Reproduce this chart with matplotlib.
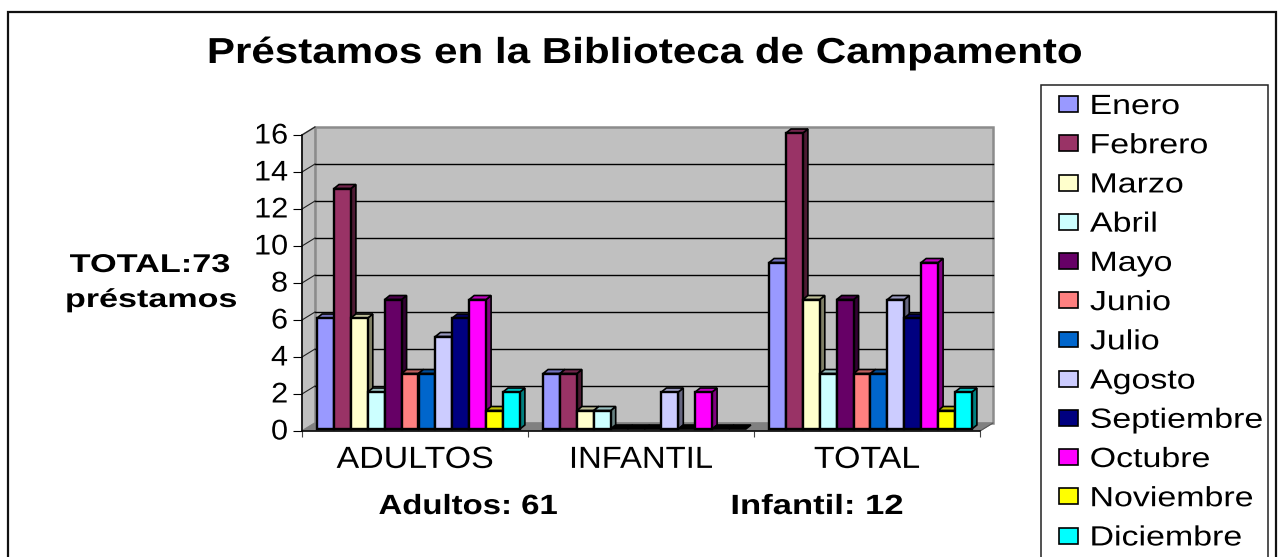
import matplotlib
matplotlib.use("Agg")
import matplotlib.pyplot as plt
from matplotlib.patches import Patch, Polygon, Rectangle
from matplotlib.patheffects import AbstractPathEffect
from matplotlib.transforms import Affine2D
import numpy as np

# ---- data
groups = ["ADULTOS", "INFANTIL", "TOTAL"]
months = ["Enero", "Febrero", "Marzo", "Abril", "Mayo", "Junio", "Julio",
          "Agosto", "Septiembre", "Octubre", "Noviembre", "Diciembre"]
adultos = [6, 13, 6, 2, 7, 3, 3, 5, 6, 7, 1, 2]
infantil = [3, 3, 1, 1, 0, 0, 0, 2, 0, 2, 0, 0]
total = [9, 16, 7, 3, 7, 3, 3, 7, 6, 9, 1, 2]
colors = ["#9999FF", "#993366", "#FFFFCC", "#CCFFFF", "#660066", "#FF8080",
          "#0066CC", "#CCCCFF", "#000080", "#FF00FF", "#FFFF00", "#00FFFF"]
yticks = [0, 2, 4, 6, 8, 10, 12, 14, 16]

W, H = 1285, 557
plt.rcParams["font.family"] = ["Liberation Sans", "DejaVu Sans"]
fig = plt.figure(figsize=(W / 100, H / 100), dpi=100, facecolor="white")


class HStretch(AbstractPathEffect):
    """Widen glyph outlines horizontally about an anchor (the source is a stretched image)."""
    def __init__(self, sx, anchor=0.5, dy=0):
        super().__init__()
        self.sx, self.anchor, self.dy = sx, anchor, dy

    def draw_path(self, renderer, gc, tpath, affine, rgbFace=None):
        e = tpath.get_extents()
        cx = e.x0 + self.anchor * (e.x1 - e.x0)
        t = (Affine2D().translate(-cx, 0).scale(self.sx, 1).translate(cx, 0)
             + affine + Affine2D().translate(0, self.dy))
        renderer.draw_path(gc, tpath, t, rgbFace)


def fit(artists, ref, target, anchor=0.5, dy=0):
    r = fig.canvas.get_renderer()
    sx = target / ref.get_window_extent(r).width
    for a in artists:
        a.set_path_effects([HStretch(sx, anchor, dy)])


def ftext(s, cx, base, size, target, weight="bold"):
    t = fig.text(cx / W, 1 - base / H, s, fontsize=size, fontweight=weight,
                 ha="center", va="baseline", color="black")
    fit([t], t, target)
    return t


# outer frame (bottom edge lies outside the picture) and legend box
fig.add_artist(Rectangle((8 / W, -0.02), 1268 / W, 1.02 - 12 / H, transform=fig.transFigure,
                         fill=False, ec="#111111", lw=1.6))
fig.add_artist(Rectangle((1041 / W, -0.02), 227 / W, 1.02 - 85 / H, transform=fig.transFigure,
                         fill=False, ec="#222222", lw=1.1))

ax = fig.add_axes([302 / W, (H - 431) / H, 678 / W, 296 / H])
ax.patch.set_visible(False)
ax.set_xlim(0, 3)
ax.set_ylim(0, 16)
pxx, pxy = 3 / 678, 16 / 296
DX, DY = 13 * pxx, 8 * pxy

# chart walls, floor, gridlines
ax.add_patch(Polygon([(DX, DY), (3 + DX, DY), (3 + DX, 16 + DY), (DX, 16 + DY)], closed=True,
                     fc="#C0C0C0", ec="#8C8C8C", lw=1.8, clip_on=False, zorder=0.5))
ax.add_patch(Polygon([(0, 0), (DX, DY), (DX, 16 + DY), (0, 16)], closed=True,
                     fc="#C0C0C0", ec="#8C8C8C", lw=1.2, clip_on=False, zorder=0.6))
ax.add_patch(Polygon([(0, 0), (3, 0), (3 + DX, DY), (DX, DY)], closed=True,
                     fc="#808080", ec="#808080", lw=0.8, clip_on=False, zorder=0.7))
for v in yticks:
    if v > 0:
        if v < 16:
            ax.plot([DX, 3 + DX], [v + DY, v + DY], color="black", lw=1.0, clip_on=False, zorder=0.8)
        ax.plot([0, DX], [v, v + DY], color="#222222", lw=0.8, clip_on=False, zorder=0.8)
ax.plot([3, 3 + DX], [0, DY], color="#555555", lw=0.7, clip_on=False, zorder=0.8)


def shade(c, f):
    return tuple(np.array(matplotlib.colors.to_rgb(c)) * f)


# 3-D bars
shift = ax.transData + Affine2D().translate(3.5, 2)
w = 16.9 * pxx
dx, dy = 5 * pxx, 4 * pxy
z = 3.0
for g, series in enumerate([adultos, infantil, total]):
    for m, val in enumerate(series):
        x0 = g + 0.5 + (m - 6) * w
        x1 = x0 + w
        if val > 0:
            ax.add_patch(Polygon([(x1, 0), (x1 + dx, dy), (x1 + dx, val + dy), (x1, val)], closed=True,
                                 fc=shade(colors[m], 0.5), ec="black", lw=1.2,
                                 transform=shift, clip_on=False, zorder=z))
        ax.add_patch(Polygon([(x0, val), (x1, val), (x1 + dx, val + dy), (x0 + dx, val + dy)], closed=True,
                             fc=shade(colors[m], 0.75) if val > 0 else "black", ec="black", lw=1.2,
                             transform=shift, clip_on=False, zorder=z + 0.1))
        if val > 0:
            ax.bar(x0, val, width=w, align="edge", color=colors[m], edgecolor="black", linewidth=1.7,
                   transform=shift, clip_on=False, zorder=z + 0.2)
        z += 0.3

ax.set_xlim(0, 3)
ax.set_ylim(0, 16)
for s in ["top", "right"]:
    ax.spines[s].set_visible(False)
for s in ["left", "bottom"]:
    ax.spines[s].set_linewidth(1.1)

ax.set_yticks(yticks)
ax.set_yticklabels([str(v) for v in yticks], fontsize=20.5)
ax.tick_params(axis="y", length=6.5, width=0.8, pad=3.6)
ax.set_xticks([0, 1, 2, 3])
ax.set_xticklabels([])
ax.set_xticks([0.5, 1.5, 2.5], minor=True)
ax.set_xticklabels(groups, minor=True, fontsize=22)
ax.tick_params(axis="x", which="major", length=4.5, width=0.8, color="#444444")
ax.tick_params(axis="x", which="minor", length=0, pad=10)

fig.canvas.draw()
fit(ax.get_yticklabels(), ax.get_yticklabels()[-1], 34, anchor=1.0, dy=1.5)
xl = ax.get_xticklabels(minor=True)
fit([xl[0], xl[2]], xl[0], 157)
fit([xl[1]], xl[1], 144)

# legend
em = 20 * 100 / 72
handles = [Patch(fc=c, ec="black", lw=1.2) for c in colors]
leg = fig.legend(handles, months, loc="upper left",
                 bbox_to_anchor=(1059 / W, 1 - 94 / H), bbox_transform=fig.transFigure,
                 frameon=False, ncol=1, fontsize=20, borderaxespad=0, borderpad=0,
                 handlelength=19 / em, handleheight=14 / em, handletextpad=12 / em,
                 labelspacing=0.476)
fig.canvas.draw()
ltexts = leg.get_texts()
fit(ltexts, ltexts[8], 173, anchor=0.0)

# titles and annotations
ftext("Préstamos en la Biblioteca de Campamento", 644.5, 63, 26, 875)
ftext("TOTAL:73", 150, 272, 18.5, 161)
ftext("préstamos", 151.5, 307, 18.5, 173)
ftext("Adultos: 61", 468, 514, 20, 179)
ftext("Infantil: 12", 817, 514, 20, 173)

fig.savefig("out.png", dpi=100, facecolor="white")
